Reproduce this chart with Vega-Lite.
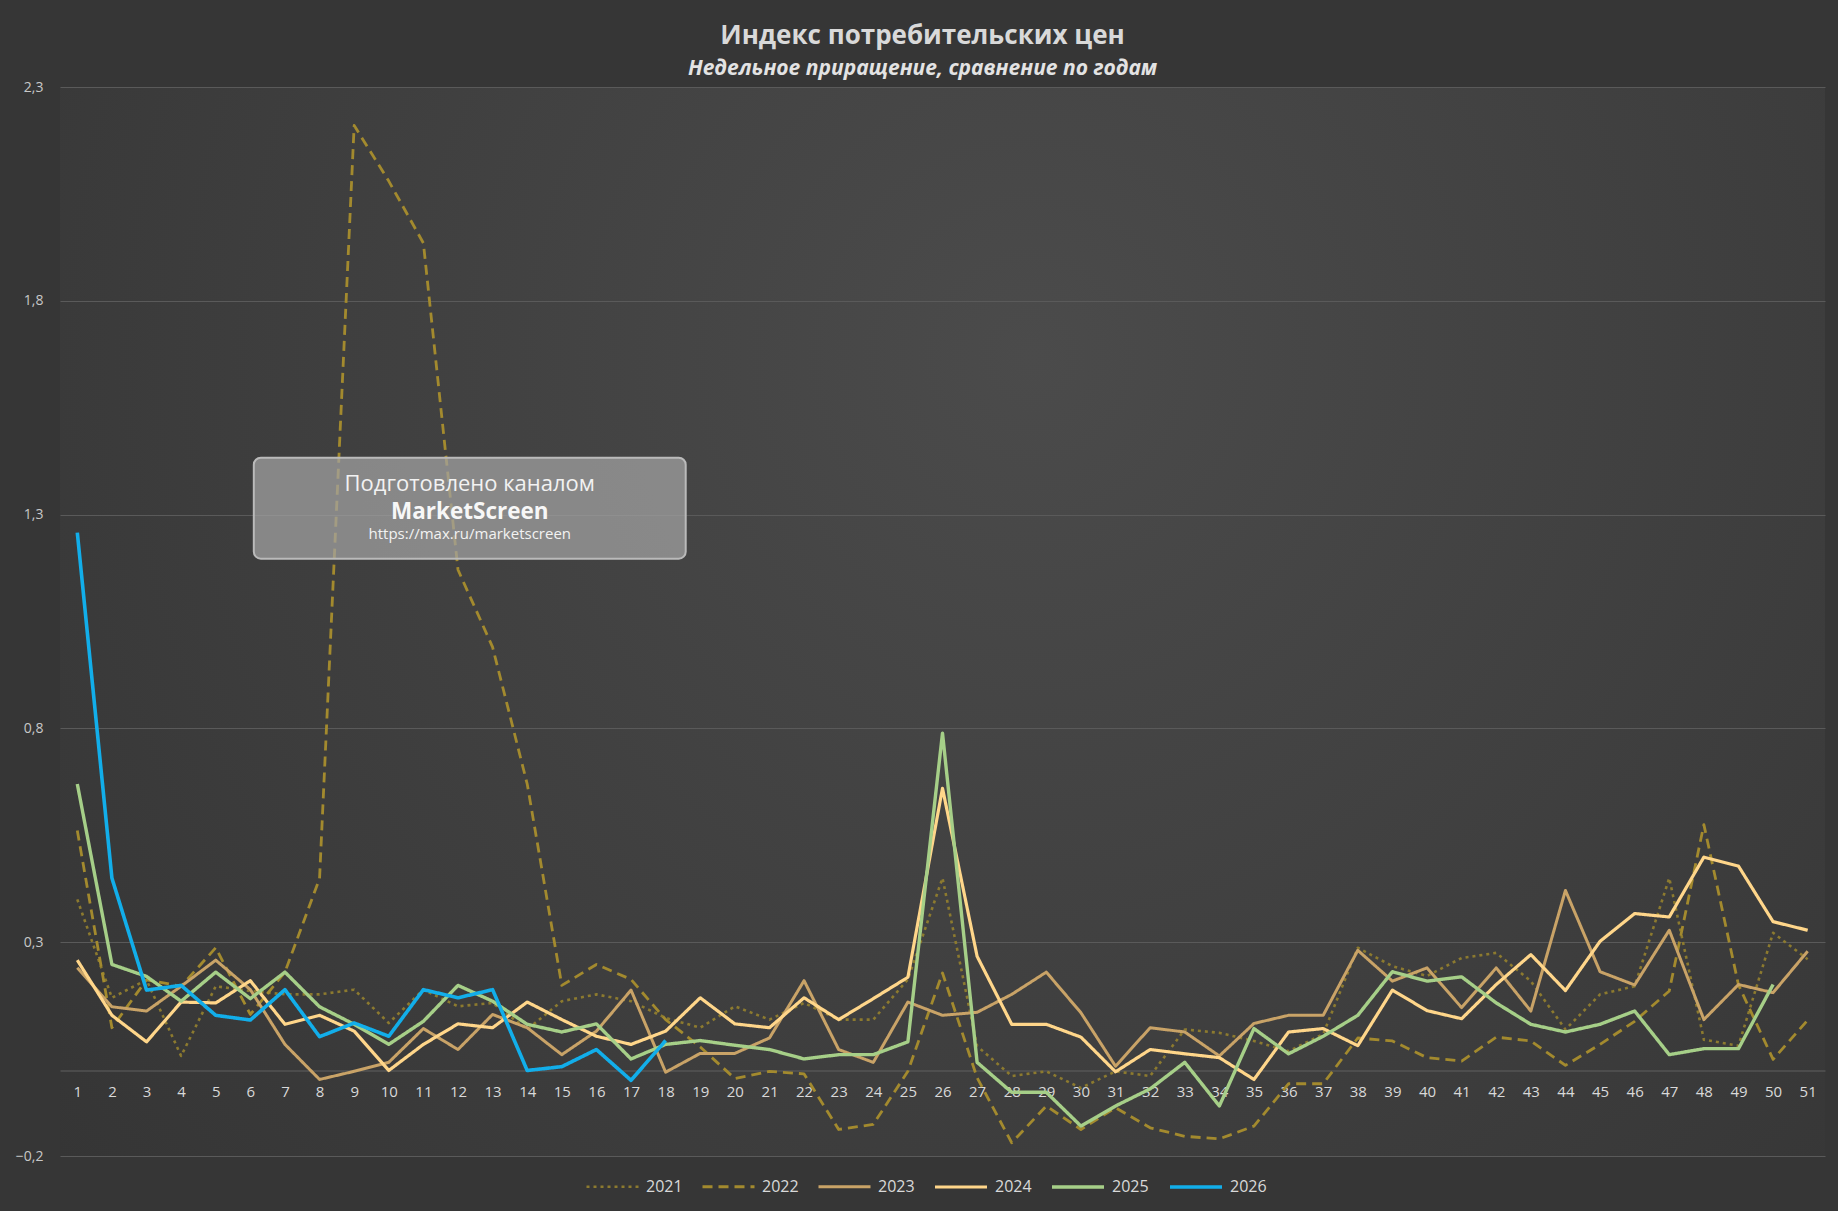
{
  "$schema": "https://vega.github.io/schema/vega-lite/v6.json",
  "description": "Индекс потребительских цен, недельное приращение по годам",
  "width": 1765,
  "height": 1069,
  "autosize": {"type": "none"},
  "padding": {"left": 60, "top": 87, "right": 13, "bottom": 55},
  "background": "#363636",
  "title": {
    "text": "Индекс потребительских цен",
    "subtitle": "Недельное приращение, сравнение по годам",
    "anchor": "middle",
    "frame": "group",
    "dx": -20,
    "offset": 1,
    "font": "Open Sans",
    "fontSize": 26,
    "fontWeight": "bold",
    "color": "#d9d9d9",
    "subtitleFont": "Open Sans",
    "subtitleFontSize": 21,
    "subtitleFontStyle": "italic",
    "subtitleFontWeight": "bold",
    "subtitleColor": "#e3e3e3",
    "subtitlePadding": 9
  },
  "data": {
    "values": [
      {"week": 1, "year": "2021", "value": 0.40}, {"week": 2, "year": "2021", "value": 0.17}, {"week": 3, "year": "2021", "value": 0.212},
      {"week": 4, "year": "2021", "value": 0.034}, {"week": 5, "year": "2021", "value": 0.197}, {"week": 6, "year": "2021", "value": 0.186},
      {"week": 7, "year": "2021", "value": 0.178}, {"week": 8, "year": "2021", "value": 0.178}, {"week": 9, "year": "2021", "value": 0.189},
      {"week": 10, "year": "2021", "value": 0.111}, {"week": 11, "year": "2021", "value": 0.189}, {"week": 12, "year": "2021", "value": 0.15},
      {"week": 13, "year": "2021", "value": 0.158}, {"week": 14, "year": "2021", "value": 0.096}, {"week": 15, "year": "2021", "value": 0.162},
      {"week": 16, "year": "2021", "value": 0.178}, {"week": 17, "year": "2021", "value": 0.162}, {"week": 18, "year": "2021", "value": 0.123},
      {"week": 19, "year": "2021", "value": 0.10}, {"week": 20, "year": "2021", "value": 0.15}, {"week": 21, "year": "2021", "value": 0.119},
      {"week": 22, "year": "2021", "value": 0.158}, {"week": 23, "year": "2021", "value": 0.119}, {"week": 24, "year": "2021", "value": 0.119},
      {"week": 25, "year": "2021", "value": 0.213}, {"week": 26, "year": "2021", "value": 0.45}, {"week": 27, "year": "2021", "value": 0.057},
      {"week": 28, "year": "2021", "value": -0.013}, {"week": 29, "year": "2021", "value": -0.002}, {"week": 30, "year": "2021", "value": -0.041},
      {"week": 31, "year": "2021", "value": -0.002}, {"week": 32, "year": "2021", "value": -0.013}, {"week": 33, "year": "2021", "value": 0.096},
      {"week": 34, "year": "2021", "value": 0.088}, {"week": 35, "year": "2021", "value": 0.069}, {"week": 36, "year": "2021", "value": 0.045},
      {"week": 37, "year": "2021", "value": 0.085}, {"week": 38, "year": "2021", "value": 0.287}, {"week": 39, "year": "2021", "value": 0.244},
      {"week": 40, "year": "2021", "value": 0.221}, {"week": 41, "year": "2021", "value": 0.263}, {"week": 42, "year": "2021", "value": 0.275},
      {"week": 43, "year": "2021", "value": 0.209}, {"week": 44, "year": "2021", "value": 0.096}, {"week": 45, "year": "2021", "value": 0.178},
      {"week": 46, "year": "2021", "value": 0.197}, {"week": 47, "year": "2021", "value": 0.45}, {"week": 48, "year": "2021", "value": 0.072},
      {"week": 49, "year": "2021", "value": 0.058}, {"week": 50, "year": "2021", "value": 0.322}, {"week": 51, "year": "2021", "value": 0.26},

      {"week": 1, "year": "2022", "value": 0.561}, {"week": 2, "year": "2022", "value": 0.10}, {"week": 3, "year": "2022", "value": 0.212},
      {"week": 4, "year": "2022", "value": 0.197}, {"week": 5, "year": "2022", "value": 0.287}, {"week": 6, "year": "2022", "value": 0.131},
      {"week": 7, "year": "2022", "value": 0.23}, {"week": 8, "year": "2022", "value": 0.449}, {"week": 9, "year": "2022", "value": 2.21},
      {"week": 10, "year": "2022", "value": 2.08}, {"week": 11, "year": "2022", "value": 1.935}, {"week": 12, "year": "2022", "value": 1.171},
      {"week": 13, "year": "2022", "value": 0.99}, {"week": 14, "year": "2022", "value": 0.67}, {"week": 15, "year": "2022", "value": 0.199},
      {"week": 16, "year": "2022", "value": 0.248}, {"week": 17, "year": "2022", "value": 0.213}, {"week": 18, "year": "2022", "value": 0.119},
      {"week": 19, "year": "2022", "value": 0.055}, {"week": 20, "year": "2022", "value": -0.019}, {"week": 21, "year": "2022", "value": -0.002},
      {"week": 22, "year": "2022", "value": -0.008}, {"week": 23, "year": "2022", "value": -0.138}, {"week": 24, "year": "2022", "value": -0.126},
      {"week": 25, "year": "2022", "value": -0.002}, {"week": 26, "year": "2022", "value": 0.228}, {"week": 27, "year": "2022", "value": -0.017},
      {"week": 28, "year": "2022", "value": -0.169}, {"week": 29, "year": "2022", "value": -0.083}, {"week": 30, "year": "2022", "value": -0.138},
      {"week": 31, "year": "2022", "value": -0.087}, {"week": 32, "year": "2022", "value": -0.134}, {"week": 33, "year": "2022", "value": -0.154},
      {"week": 34, "year": "2022", "value": -0.16}, {"week": 35, "year": "2022", "value": -0.13}, {"week": 36, "year": "2022", "value": -0.031},
      {"week": 37, "year": "2022", "value": -0.031}, {"week": 38, "year": "2022", "value": 0.076}, {"week": 39, "year": "2022", "value": 0.069},
      {"week": 40, "year": "2022", "value": 0.03}, {"week": 41, "year": "2022", "value": 0.022}, {"week": 42, "year": "2022", "value": 0.078},
      {"week": 43, "year": "2022", "value": 0.069}, {"week": 44, "year": "2022", "value": 0.012}, {"week": 45, "year": "2022", "value": 0.061},
      {"week": 46, "year": "2022", "value": 0.115}, {"week": 47, "year": "2022", "value": 0.186}, {"week": 48, "year": "2022", "value": 0.575},
      {"week": 49, "year": "2022", "value": 0.2}, {"week": 50, "year": "2022", "value": 0.026}, {"week": 51, "year": "2022", "value": 0.118},

      {"week": 1, "year": "2023", "value": 0.24}, {"week": 2, "year": "2023", "value": 0.149}, {"week": 3, "year": "2023", "value": 0.139},
      {"week": 4, "year": "2023", "value": 0.197}, {"week": 5, "year": "2023", "value": 0.258}, {"week": 6, "year": "2023", "value": 0.189},
      {"week": 7, "year": "2023", "value": 0.061}, {"week": 8, "year": "2023", "value": -0.021}, {"week": 9, "year": "2023", "value": -0.002},
      {"week": 10, "year": "2023", "value": 0.019}, {"week": 11, "year": "2023", "value": 0.098}, {"week": 12, "year": "2023", "value": 0.049},
      {"week": 13, "year": "2023", "value": 0.131}, {"week": 14, "year": "2023", "value": 0.10}, {"week": 15, "year": "2023", "value": 0.037},
      {"week": 16, "year": "2023", "value": 0.092}, {"week": 17, "year": "2023", "value": 0.188}, {"week": 18, "year": "2023", "value": -0.004},
      {"week": 19, "year": "2023", "value": 0.04}, {"week": 20, "year": "2023", "value": 0.04}, {"week": 21, "year": "2023", "value": 0.076},
      {"week": 22, "year": "2023", "value": 0.21}, {"week": 23, "year": "2023", "value": 0.049}, {"week": 24, "year": "2023", "value": 0.019},
      {"week": 25, "year": "2023", "value": 0.16}, {"week": 26, "year": "2023", "value": 0.129}, {"week": 27, "year": "2023", "value": 0.136},
      {"week": 28, "year": "2023", "value": 0.178}, {"week": 29, "year": "2023", "value": 0.23}, {"week": 30, "year": "2023", "value": 0.135},
      {"week": 31, "year": "2023", "value": 0.01}, {"week": 32, "year": "2023", "value": 0.10}, {"week": 33, "year": "2023", "value": 0.09},
      {"week": 34, "year": "2023", "value": 0.034}, {"week": 35, "year": "2023", "value": 0.11}, {"week": 36, "year": "2023", "value": 0.129},
      {"week": 37, "year": "2023", "value": 0.129}, {"week": 38, "year": "2023", "value": 0.281}, {"week": 39, "year": "2023", "value": 0.209},
      {"week": 40, "year": "2023", "value": 0.24}, {"week": 41, "year": "2023", "value": 0.147}, {"week": 42, "year": "2023", "value": 0.24},
      {"week": 43, "year": "2023", "value": 0.139}, {"week": 44, "year": "2023", "value": 0.421}, {"week": 45, "year": "2023", "value": 0.231},
      {"week": 46, "year": "2023", "value": 0.20}, {"week": 47, "year": "2023", "value": 0.328}, {"week": 48, "year": "2023", "value": 0.119},
      {"week": 49, "year": "2023", "value": 0.201}, {"week": 50, "year": "2023", "value": 0.182}, {"week": 51, "year": "2023", "value": 0.279},

      {"week": 1, "year": "2024", "value": 0.258}, {"week": 2, "year": "2024", "value": 0.129}, {"week": 3, "year": "2024", "value": 0.067},
      {"week": 4, "year": "2024", "value": 0.16}, {"week": 5, "year": "2024", "value": 0.158}, {"week": 6, "year": "2024", "value": 0.21},
      {"week": 7, "year": "2024", "value": 0.108}, {"week": 8, "year": "2024", "value": 0.129}, {"week": 9, "year": "2024", "value": 0.092},
      {"week": 10, "year": "2024", "value": 0.0}, {"week": 11, "year": "2024", "value": 0.061}, {"week": 12, "year": "2024", "value": 0.109},
      {"week": 13, "year": "2024", "value": 0.10}, {"week": 14, "year": "2024", "value": 0.16}, {"week": 15, "year": "2024", "value": 0.119},
      {"week": 16, "year": "2024", "value": 0.08}, {"week": 17, "year": "2024", "value": 0.061}, {"week": 18, "year": "2024", "value": 0.092},
      {"week": 19, "year": "2024", "value": 0.17}, {"week": 20, "year": "2024", "value": 0.109}, {"week": 21, "year": "2024", "value": 0.10},
      {"week": 22, "year": "2024", "value": 0.17}, {"week": 23, "year": "2024", "value": 0.119}, {"week": 24, "year": "2024", "value": 0.168},
      {"week": 25, "year": "2024", "value": 0.218}, {"week": 26, "year": "2024", "value": 0.66}, {"week": 27, "year": "2024", "value": 0.267},
      {"week": 28, "year": "2024", "value": 0.108}, {"week": 29, "year": "2024", "value": 0.108}, {"week": 30, "year": "2024", "value": 0.078},
      {"week": 31, "year": "2024", "value": -0.003}, {"week": 32, "year": "2024", "value": 0.049}, {"week": 33, "year": "2024", "value": 0.039},
      {"week": 34, "year": "2024", "value": 0.03}, {"week": 35, "year": "2024", "value": -0.021}, {"week": 36, "year": "2024", "value": 0.09},
      {"week": 37, "year": "2024", "value": 0.098}, {"week": 38, "year": "2024", "value": 0.058}, {"week": 39, "year": "2024", "value": 0.188},
      {"week": 40, "year": "2024", "value": 0.14}, {"week": 41, "year": "2024", "value": 0.121}, {"week": 42, "year": "2024", "value": 0.201},
      {"week": 43, "year": "2024", "value": 0.271}, {"week": 44, "year": "2024", "value": 0.187}, {"week": 45, "year": "2024", "value": 0.302},
      {"week": 46, "year": "2024", "value": 0.367}, {"week": 47, "year": "2024", "value": 0.359}, {"week": 48, "year": "2024", "value": 0.499},
      {"week": 49, "year": "2024", "value": 0.478}, {"week": 50, "year": "2024", "value": 0.348}, {"week": 51, "year": "2024", "value": 0.328},

      {"week": 1, "year": "2025", "value": 0.67}, {"week": 2, "year": "2025", "value": 0.248}, {"week": 3, "year": "2025", "value": 0.22},
      {"week": 4, "year": "2025", "value": 0.162}, {"week": 5, "year": "2025", "value": 0.23}, {"week": 6, "year": "2025", "value": 0.168},
      {"week": 7, "year": "2025", "value": 0.23}, {"week": 8, "year": "2025", "value": 0.149}, {"week": 9, "year": "2025", "value": 0.108},
      {"week": 10, "year": "2025", "value": 0.061}, {"week": 11, "year": "2025", "value": 0.115}, {"week": 12, "year": "2025", "value": 0.199},
      {"week": 13, "year": "2025", "value": 0.162}, {"week": 14, "year": "2025", "value": 0.108}, {"week": 15, "year": "2025", "value": 0.09},
      {"week": 16, "year": "2025", "value": 0.109}, {"week": 17, "year": "2025", "value": 0.027}, {"week": 18, "year": "2025", "value": 0.061},
      {"week": 19, "year": "2025", "value": 0.07}, {"week": 20, "year": "2025", "value": 0.059}, {"week": 21, "year": "2025", "value": 0.049},
      {"week": 22, "year": "2025", "value": 0.027}, {"week": 23, "year": "2025", "value": 0.037}, {"week": 24, "year": "2025", "value": 0.037},
      {"week": 25, "year": "2025", "value": 0.067}, {"week": 26, "year": "2025", "value": 0.789}, {"week": 27, "year": "2025", "value": 0.019},
      {"week": 28, "year": "2025", "value": -0.051}, {"week": 29, "year": "2025", "value": -0.051}, {"week": 30, "year": "2025", "value": -0.13},
      {"week": 31, "year": "2025", "value": -0.083}, {"week": 32, "year": "2025", "value": -0.043}, {"week": 33, "year": "2025", "value": 0.019},
      {"week": 34, "year": "2025", "value": -0.083}, {"week": 35, "year": "2025", "value": 0.098}, {"week": 36, "year": "2025", "value": 0.039},
      {"week": 37, "year": "2025", "value": 0.08}, {"week": 38, "year": "2025", "value": 0.129}, {"week": 39, "year": "2025", "value": 0.231},
      {"week": 40, "year": "2025", "value": 0.209}, {"week": 41, "year": "2025", "value": 0.219}, {"week": 42, "year": "2025", "value": 0.158},
      {"week": 43, "year": "2025", "value": 0.108}, {"week": 44, "year": "2025", "value": 0.09}, {"week": 45, "year": "2025", "value": 0.108},
      {"week": 46, "year": "2025", "value": 0.139}, {"week": 47, "year": "2025", "value": 0.037}, {"week": 48, "year": "2025", "value": 0.051},
      {"week": 49, "year": "2025", "value": 0.051}, {"week": 50, "year": "2025", "value": 0.201},

      {"week": 1, "year": "2026", "value": 1.258}, {"week": 2, "year": "2026", "value": 0.45}, {"week": 3, "year": "2026", "value": 0.188},
      {"week": 4, "year": "2026", "value": 0.199}, {"week": 5, "year": "2026", "value": 0.129}, {"week": 6, "year": "2026", "value": 0.118},
      {"week": 7, "year": "2026", "value": 0.189}, {"week": 8, "year": "2026", "value": 0.079}, {"week": 9, "year": "2026", "value": 0.111},
      {"week": 10, "year": "2026", "value": 0.08}, {"week": 11, "year": "2026", "value": 0.189}, {"week": 12, "year": "2026", "value": 0.17},
      {"week": 13, "year": "2026", "value": 0.189}, {"week": 14, "year": "2026", "value": 0.0}, {"week": 15, "year": "2026", "value": 0.009},
      {"week": 16, "year": "2026", "value": 0.049}, {"week": 17, "year": "2026", "value": -0.023}, {"week": 18, "year": "2026", "value": 0.07}
    ]
  },
  "layer": [
    {
      "mark": {"type": "line", "strokeCap": "butt", "strokeJoin": "round"},
      "encoding": {
        "x": {
          "field": "week",
          "type": "quantitative",
          "title": null,
          "scale": {"domain": [0.5, 51.5], "nice": false, "zero": false},
          "axis": {
            "values": [1, 2, 3, 4, 5, 6, 7, 8, 9, 10, 11, 12, 13, 14, 15, 16, 17, 18, 19, 20, 21, 22, 23, 24, 25, 26, 27, 28, 29, 30, 31, 32, 33, 34, 35, 36, 37, 38, 39, 40, 41, 42, 43, 44, 45, 46, 47, 48, 49, 50, 51],
            "tickCount": 60,
            "format": "d",
            "offset": -85.5,
            "grid": false,
            "ticks": false,
            "domain": true,
            "domainColor": "#616161",
            "domainWidth": 1,
            "labelFont": "Open Sans",
            "labelFontSize": 15,
            "labelColor": "#d9d9d9",
            "labelPadding": 14,
            "labelOverlap": false,
            "labelFlush": false,
            "labelBound": false
          }
        },
        "y": {
          "field": "value",
          "type": "quantitative",
          "title": null,
          "scale": {"domain": [-0.2, 2.3], "nice": false, "zero": false},
          "axis": {
            "values": [-0.2, 0.3, 0.8, 1.3, 1.8, 2.3],
            "labelExpr": "replace(format(datum.value, '.1f'), '.', ',')",
            "grid": true,
            "gridColor": "#5a5a5a",
            "gridWidth": 1,
            "domain": false,
            "ticks": false,
            "labelFont": "Open Sans",
            "labelFontSize": 14,
            "labelColor": "#c8c8c8",
            "labelPadding": 17,
            "labelOverlap": false
          }
        },
        "color": {
          "field": "year",
          "type": "nominal",
          "title": null,
          "scale": {
            "domain": ["2021", "2022", "2023", "2024", "2025", "2026"],
            "range": ["#8c7a2f", "#a38a2e", "#c9a367", "#ffd68a", "#a6cf88", "#12aeea"]
          },
          "legend": {
            "orient": "none",
            "direction": "horizontal",
            "legendX": 525,
            "legendY": 1072
          }
        },
        "strokeDash": {
          "field": "year",
          "type": "nominal",
          "title": null,
          "scale": {
            "domain": ["2021", "2022", "2023", "2024", "2025", "2026"],
            "range": [[3, 4], [10, 6], [1, 0], [1, 0], [1, 0], [1, 0]]
          }
        },
        "strokeWidth": {
          "field": "year",
          "type": "nominal",
          "title": null,
          "scale": {
            "domain": ["2021", "2022", "2023", "2024", "2025", "2026"],
            "range": [2.6, 3.6, 3, 3.6, 3.6, 4.8]
          }
        }
      }
    },
    {
      "data": {"values": [{"x": 6.1, "x2": 18.58, "y": 1.197, "y2": 1.433}]},
      "mark": {"type": "rect", "cornerRadius": 7, "fill": "#a3a3a3", "fillOpacity": 0.72, "stroke": "#bababa", "strokeWidth": 2},
      "encoding": {
        "x": {"field": "x", "type": "quantitative", "title": null},
        "x2": {"field": "x2"},
        "y": {"field": "y", "type": "quantitative", "title": null},
        "y2": {"field": "y2"}
      }
    },
    {
      "data": {"values": [{"x": 12.34, "y": 1.372, "label": "Подготовлено каналом"}]},
      "mark": {"type": "text", "font": "Open Sans", "fontSize": 22, "color": "#f2f2f2", "align": "center", "baseline": "middle"},
      "encoding": {
        "x": {"field": "x", "type": "quantitative", "title": null},
        "y": {"field": "y", "type": "quantitative", "title": null},
        "text": {"field": "label"}
      }
    },
    {
      "data": {"values": [{"x": 12.34, "y": 1.305, "label": "MarketScreen"}]},
      "mark": {"type": "text", "font": "Open Sans", "fontSize": 22.5, "fontWeight": "bold", "color": "#f7f7f7", "align": "center", "baseline": "middle"},
      "encoding": {
        "x": {"field": "x", "type": "quantitative", "title": null},
        "y": {"field": "y", "type": "quantitative", "title": null},
        "text": {"field": "label"}
      }
    },
    {
      "data": {"values": [{"x": 12.34, "y": 1.254, "label": "https://max.ru/marketscreen"}]},
      "mark": {"type": "text", "font": "Open Sans", "fontSize": 15, "color": "#f2f2f2", "align": "center", "baseline": "middle"},
      "encoding": {
        "x": {"field": "x", "type": "quantitative", "title": null},
        "y": {"field": "y", "type": "quantitative", "title": null},
        "text": {"field": "label"}
      }
    }
  ],
  "config": {
    "view": {
      "stroke": null,
      "fill": {
        "gradient": "radial",
        "x1": 0.55, "y1": 0.35, "r1": 0,
        "x2": 0.55, "y2": 0.35, "r2": 0.78,
        "stops": [
          {"offset": 0, "color": "#4b4b4b"},
          {"offset": 1, "color": "#333333"}
        ]
      }
    },
    "axis": {"labelOverlap": false, "labelFlush": false},
    "legend": {
      "symbolType": "stroke",
      "symbolSize": 2704,
      "labelFont": "Open Sans",
      "labelFontSize": 16,
      "labelColor": "#d9d9d9",
      "labelOffset": 6,
      "columnPadding": 13
    }
  }
}
